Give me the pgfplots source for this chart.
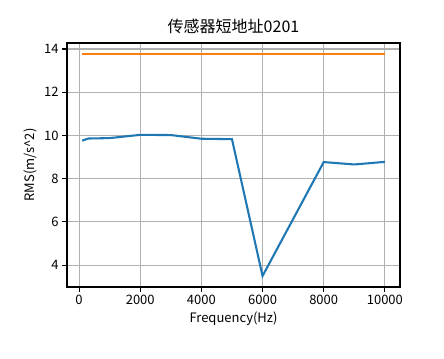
\documentclass[border=0pt]{standalone}
\usepackage{pgfplots}
\pgfplotsset{compat=1.18}
\usepackage{fontspec}
\setmainfont{Noto Sans CJK SC}
\definecolor{mplblue}{HTML}{1F77B4}
\definecolor{mplorange}{HTML}{FF7F0E}
\definecolor{mplgrid}{HTML}{B0B0B0}
\begin{document}
\begin{tikzpicture}
\begin{axis}[
  at={(0,0)}, anchor=south west,
  scale only axis, width=333bp, height=244bp,
  xmin=-395, xmax=10495, ymin=2.99, ymax=14.28,
  xtick={0,2000,4000,6000,8000,10000},
  ytick={4,6,8,10,12,14},
  scaled x ticks=false,
  xticklabel style={/pgf/number format/1000 sep={}},
  /pgf/number format/assume math mode=true,
  tick label style={font=\fontsize{13bp}{15bp}\selectfont},
  label style={font=\fontsize{13bp}{15bp}\selectfont},
  title style={font=\fontsize{16bp}{19bp}\selectfont},
  title={传感器短地址0201},
  xlabel={Frequency(Hz)},
  ylabel={RMS(m/s\textasciicircum 2)},
  grid=major,
  major grid style={mplgrid, line width=1.1bp},
  axis line style={black, line width=1.1bp},
  tick style={black, line width=1.1bp},
  tick align=outside, major tick length=4.9bp,
  xtick pos=bottom, ytick pos=left,
  axis on top=false,
]
\addplot[mplblue, line width=2.08bp] coordinates {
  (100,9.76) (300,9.86) (1000,9.88) (2000,10.03) (3000,10.02)
  (4000,9.85) (5000,9.83) (6000,3.5) (8000,8.77) (9000,8.66) (10000,8.78)
};
\addplot[mplorange, line width=2.08bp] coordinates {
  (100,13.78) (10000,13.78)
};
\end{axis}
\pgfresetboundingbox
\useasboundingbox (-67bp,-72bp) rectangle (377bp,287bp);
\end{tikzpicture}
\end{document}
